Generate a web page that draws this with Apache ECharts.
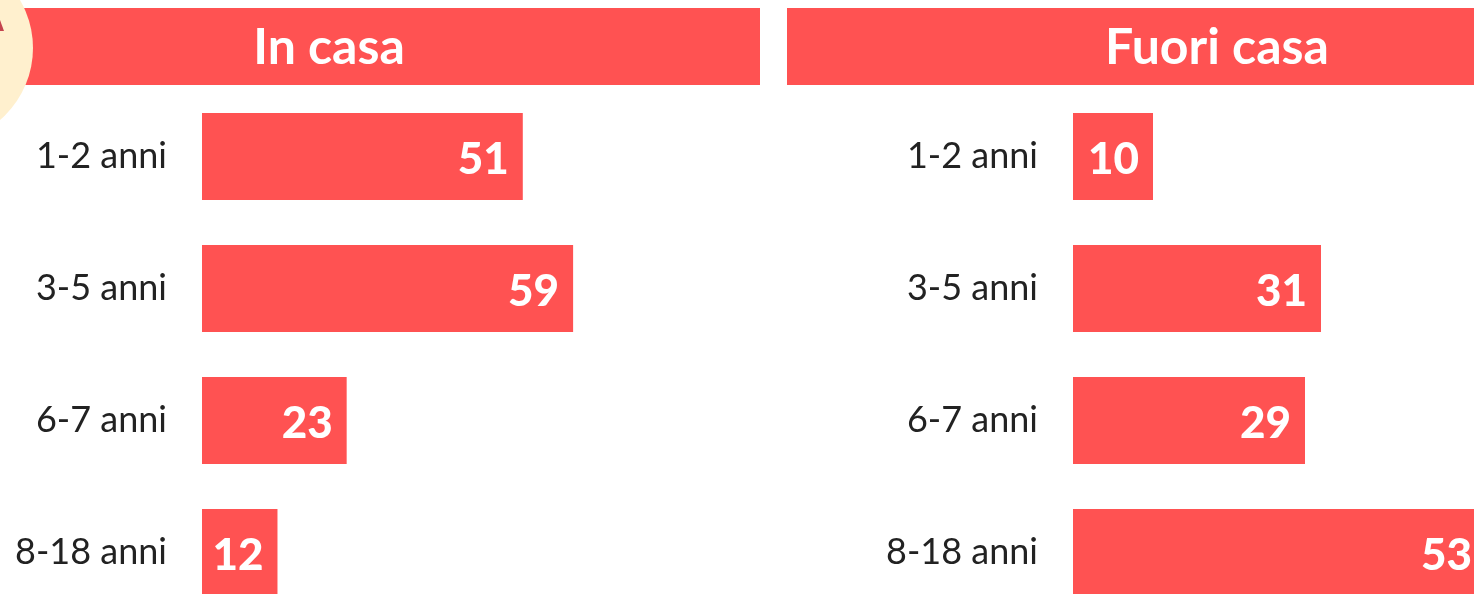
<!DOCTYPE html>
<html>
<head>
<meta charset="utf-8">
<script src="https://cdn.jsdelivr.net/npm/echarts@6/dist/echarts.min.js"></script>
<style>
  * { margin: 0; padding: 0; }
  body { background: #fff; }
</style>
</head>
<body>
<div id="main" style="width:1474px;height:594px;"></div>
<script>
  // dati
  var categorie = ['1-2 anni', '3-5 anni', '6-7 anni', '8-18 anni'];
  var inCasa = [51, 59, 23, 12];
  var fuoriCasa = [10, 31, 29, 53];
  var titoli = ['In casa', 'Fuori casa'];

  var rosso = '#FF5252';

  var chart = echarts.init(document.getElementById('main'));

  // limite visibile della griglia (oltre, la barra esce dal bordo)
  function barSeries (idx, data, visibile) {
    return {
      type: 'bar',
      xAxisIndex: idx,
      yAxisIndex: idx,
      data: data.map(function (v) {
        // etichetta spostata a sinistra se la barra esce dal riquadro
        return v > visibile ? { value: v, label: { distance: 25 } } : v;
      }),
      barWidth: 87,
      itemStyle: { color: rosso },
      label: {
        show: true,
        position: 'insideRight',
        distance: 14,
        color: '#fff',
        fontFamily: 'Lato',
        fontWeight: 900,
        fontSize: 44,
        offset: [0, 3]
      },
      silent: true
    }
  }

  function yAx (idx) {
    return {
      type: 'category',
      gridIndex: idx,
      data: categorie,
      inverse: true,
      boundaryGap: false, // centri delle barre sui bordi della griglia
      axisLine: { show: false },
      axisTick: { show: false },
      splitLine: { show: false },
      axisLabel: {
        margin: 35,
        fontFamily: 'Lato',
        fontSize: 36,
        color: '#222'
      }
    }
  }

  function xAx (idx) {
    return {
      type: 'value',
      gridIndex: idx,
      min: 0,
      max: 100,
      show: false
    }
  }

  chart.setOption({
    animation: false,
    grid: [
      { left: 202, top: 156.5, width: 629, height: 396, outerBoundsMode: 'none' },
      // la griglia di destra esce dal bordo: la barra 53 viene tagliata
      { left: 1073, top: 156.5, width: 800, height: 396, outerBoundsMode: 'none' }
    ],
    xAxis: [xAx(0), xAx(1)],
    yAxis: [yAx(0), yAx(1)],
    series: [barSeries(0, inCasa, 100), barSeries(1, fuoriCasa, 50)],
    graphic: [
      // cerchio decorativo in alto a sinistra
      { type: 'circle', shape: { cx: -62, cy: 48, r: 95 }, style: { fill: '#FFF0CE' }, z: 10 },
      { type: 'polygon', shape: { points: [[0, 20], [4, 31], [0, 31]] }, style: { fill: '#C4434E' }, z: 11 },
      // intestazioni
      { type: 'rect', shape: { x: 22, y: 8, width: 738, height: 77 }, style: { fill: rosso }, z: 5 },
      { type: 'rect', shape: { x: 787, y: 8, width: 700, height: 77 }, style: { fill: rosso }, z: 5 },
      {
        type: 'text', x: 329, y: 48, z: 12,
        style: { text: titoli[0], fill: '#fff', font: 'bold 50px Lato', align: 'center', verticalAlign: 'middle' }
      },
      {
        type: 'text', x: 1217, y: 48, z: 12,
        style: { text: titoli[1], fill: '#fff', font: 'bold 50px Lato', align: 'center', verticalAlign: 'middle' }
      }
    ]
  });
</script>
</body>
</html>
